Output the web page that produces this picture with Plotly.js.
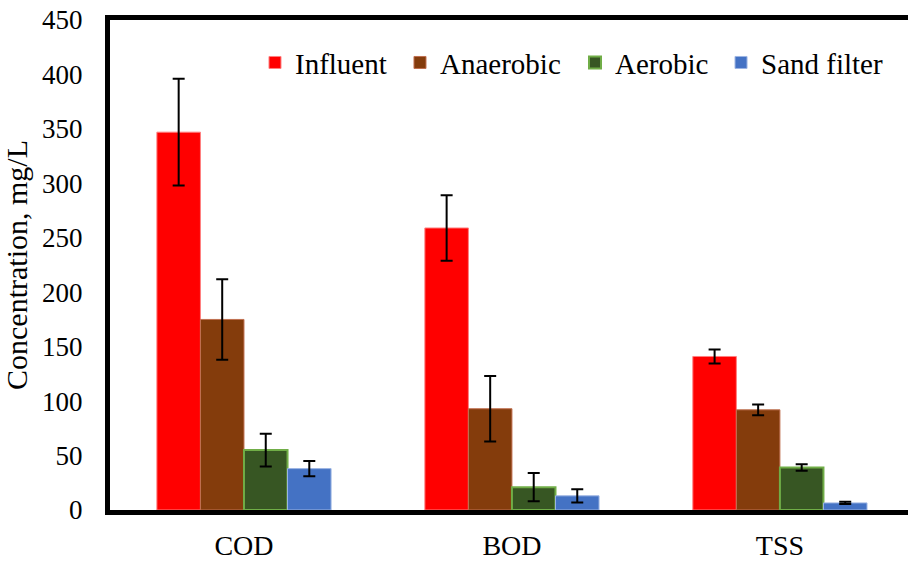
<!DOCTYPE html>
<html>
<head>
<meta charset="utf-8">
<script src="https://cdn.plot.ly/plotly-3.0.1.min.js"></script>
<style>html,body{margin:0;padding:0;background:#fff;}#chart{width:908px;height:563px;}</style>
</head>
<body>
<div id="chart"></div>
<script>
const categories = ["COD", "BOD", "TSS"];
const seriesNames = ["Influent", "Anaerobic", "Aerobic", "Sand filter"];
const influent = [347, 259, 141];
const influentErr = [49, 30, 6.5];
const anaerobic = [175, 93, 92];
const anaerobicErr = [37, 30, 5];
const aerobic = [55, 21, 39];
const aerobicErr = [15, 13, 3];
const sandFilter = [38, 13, 6.5];
const sandFilterErr = [7, 6, 1];
const yTicks = [0, 50, 100, 150, 200, 250, 300, 350, 400, 450];

const fills = ["#FF0000", "#843C0C", "#375623", "#4472C4"];
const edges = ["#FF8080", "#C07050", "#70AD47", "#9DB5E3"];
const edgeW = [1, 1, 2, 1];
const values = [influent, anaerobic, aerobic, sandFilter];
const errs = [influentErr, anaerobicErr, aerobicErr, sandFilterErr];
const legendIds = ["legend", "legend2", "legend3", "legend4"];
const legendX = [0.1817, 0.3634, 0.5827, 0.7657];

const FONT = "Liberation Serif";

const traces = seriesNames.map((name, i) => ({
  type: "bar",
  name: name,
  legend: legendIds[i],
  x: categories,
  y: values[i],
  marker: {color: fills[i], line: {color: edges[i], width: edgeW[i]}},
  error_y: {type: "data", array: errs[i], visible: true, color: "#000", thickness: 2, width: 6}
}));

const layout = {
  width: 908, height: 563,
  margin: {l: 110, r: 0, t: 20, b: 53},
  paper_bgcolor: "#fff", plot_bgcolor: "#fff",
  font: {family: FONT, color: "#000", size: 27},
  barmode: "group",
  bargap: 0.35,
  bargroupgap: 0,
  showlegend: true,
  xaxis: {
    range: [-0.5, 2.478],
    showline: true, linecolor: "#000", linewidth: 5, mirror: true,
    showgrid: false, zeroline: false, ticks: "",
    ticklabelstandoff: 6,
    tickfont: {family: FONT, size: 28, color: "#000"}
  },
  yaxis: {
    range: [0, 450],
    tickvals: yTicks,
    showline: true, linecolor: "#000", linewidth: 5, mirror: false,
    showgrid: false, zeroline: false, ticks: "",
    ticklabelstandoff: 17,
    tickfont: {family: FONT, size: 27, color: "#000"},
    title: {text: "Concentration, mg/L", font: {family: FONT, size: 30, color: "#000"}, standoff: 7}
  }
};
legendIds.forEach((id, i) => {
  layout[id] = {
    orientation: "h", x: legendX[i], xanchor: "left", y: 0.913, yanchor: "middle",
    font: {family: FONT, size: 29, color: "#000"},
    bgcolor: "rgba(0,0,0,0)"
  };
});

Plotly.newPlot("chart", traces, layout, {displayModeBar: false, staticPlot: true});
</script>
</body>
</html>
